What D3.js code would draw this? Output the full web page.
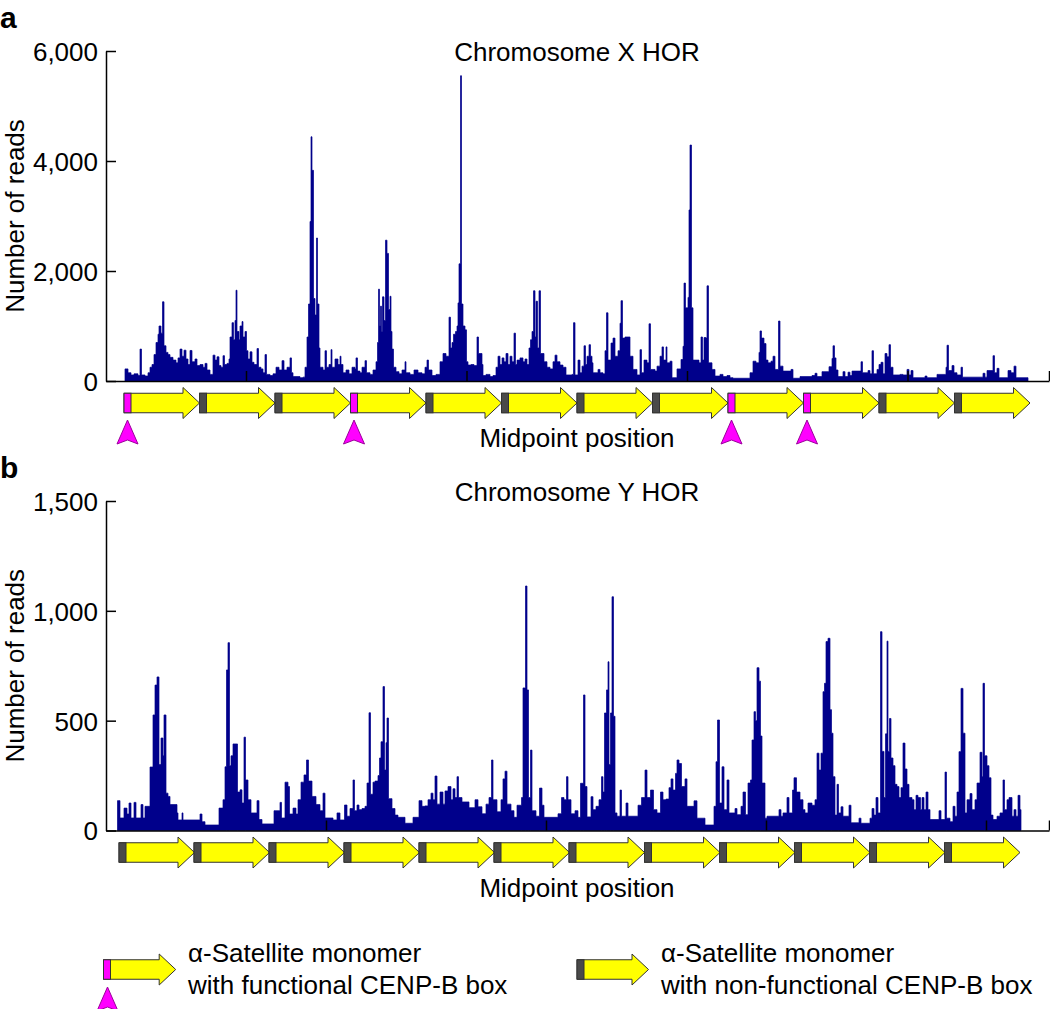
<!DOCTYPE html>
<html><head><meta charset="utf-8">
<script src="https://cdn.jsdelivr.net/npm/d3@7"></script>
<style>
body{margin:0;background:#fff}
svg{display:block}
text{font-family:"Liberation Sans",Arial,Helvetica,sans-serif;fill:#000}
</style>
</head><body>
<svg id="chart" width="1050" height="1009"></svg>
<script>
// ---------- DATA ----------
// midpoint position (arbitrary units along the HOR) , number of reads
const chrXProfile = [[38,220],[44,150],[50,110],[56,130],[64,100],[68,580],[71,110],[78,90],[84,150],[88,250],[92,300],[96,480],[100,700],[104,850],[106,1000],[110,870],[113,1440],[116,640],[120,520],[124,480],[128,430],[134,380],[140,330],[144,420],[148,580],[152,450],[156,560],[160,400],[164,300],[168,555],[172,350],[178,400],[182,280],[188,300],[194,250],[198,320],[202,200],[208,120],[214,470],[218,380],[222,440],[226,280],[230,250],[234,460],[237,300],[242,320],[246,400],[248,800],[252,1060],[255,750],[258,1100],[260,1650],[262,900],[266,750],[268,1000],[272,1080],[274,800],[278,900],[281,550],[284,400],[288,530],[292,340],[296,300],[302,590],[305,250],[310,220],[314,150],[318,480],[321,120],[328,100],[334,130],[340,250],[346,200],[352,370],[356,200],[362,250],[368,420],[371,150],[374,80],[388,60],[394,70],[398,250],[402,800],[405,1400],[408,2900],[410,4440],[412,3830],[415,1500],[418,1200],[421,2600],[423,1400],[426,600],[428,250],[434,200],[438,550],[441,250],[446,300],[450,570],[452,250],[458,400],[464,300],[468,450],[470,300],[474,150],[480,200],[486,130],[492,250],[498,220],[500,420],[503,180],[508,150],[512,250],[518,370],[521,150],[528,120],[534,200],[540,350],[543,700],[545,1670],[547,1000],[549,1360],[551,900],[553,1530],[556,1100],[559,2560],[562,2320],[565,1300],[568,1540],[570,900],[572,580],[575,250],[580,170],[586,130],[592,200],[598,350],[600,150],[608,120],[616,200],[624,150],[632,130],[638,250],[642,380],[645,200],[652,100],[660,120],[668,350],[674,500],[680,450],[686,1160],[689,600],[692,700],[695,850],[699,900],[702,1000],[704,1420],[706,2130],[709,5550],[711,1400],[714,1000],[718,930],[721,350],[724,290],[730,300],[736,280],[742,800],[745,500],[748,500],[752,300],[754,100],[760,120],[768,80],[774,100],[780,250],[784,450],[788,300],[792,420],[796,350],[800,500],[804,300],[808,450],[812,350],[816,870],[819,300],[822,380],[828,420],[834,350],[838,400],[842,300],[846,600],[849,750],[852,900],[855,1640],[858,800],[860,1450],[863,600],[866,1640],[869,500],[872,500],[876,350],[882,250],[888,220],[894,350],[898,470],[902,350],[908,290],[914,250],[920,110],[932,120],[935,1060],[938,110],[944,380],[948,150],[952,270],[956,640],[959,300],[962,450],[966,660],[969,450],[972,330],[974,150],[984,210],[988,150],[994,130],[998,550],[1001,1240],[1004,380],[1010,690],[1014,780],[1018,450],[1024,550],[1028,1050],[1030,1460],[1033,780],[1038,800],[1044,800],[1048,450],[1054,210],[1062,110],[1068,570],[1071,150],[1076,380],[1082,330],[1086,1040],[1089,210],[1098,180],[1102,270],[1108,450],[1112,620],[1115,380],[1120,620],[1122,330],[1128,360],[1132,60],[1142,220],[1150,390],[1154,630],[1156,1780],[1159,1330],[1164,1520],[1166,3110],[1168,4290],[1171,1330],[1174,380],[1182,380],[1186,330],[1190,800],[1193,380],[1196,790],[1200,780],[1202,1730],[1205,330],[1212,210],[1218,90],[1228,120],[1234,80],[1242,100],[1248,60],[1254,50],[1288,150],[1294,360],[1300,330],[1306,520],[1308,910],[1311,780],[1316,680],[1320,380],[1324,330],[1330,360],[1334,450],[1338,210],[1345,1090],[1348,270],[1354,180],[1370,210],[1374,50],[1388,80],[1412,100],[1418,140],[1422,80],[1432,170],[1446,260],[1452,410],[1454,640],[1457,420],[1460,200],[1464,80],[1474,170],[1478,80],[1484,160],[1488,100],[1492,180],[1510,350],[1513,150],[1524,190],[1528,130],[1532,550],[1535,130],[1542,210],[1546,300],[1550,340],[1554,130],[1558,500],[1562,440],[1566,660],[1569,250],[1574,110],[1588,120],[1594,110],[1602,210],[1606,110],[1610,190],[1614,60],[1638,90],[1642,60],[1662,120],[1680,250],[1682,650],[1685,190],[1692,280],[1696,150],[1702,110],[1710,250],[1713,70],[1754,140],[1758,70],[1762,190],[1774,460],[1777,150],[1782,230],[1786,60],[1804,190],[1810,150],[1816,270],[1820,60],[1844,0]];

const chrYProfile = [[23,136],[28,57],[36,102],[42,75],[46,125],[50,57],[56,128],[60,57],[70,118],[74,57],[78,110],[88,289],[94,526],[98,662],[102,699],[106,300],[110,421],[114,340],[116,526],[120,170],[124,155],[128,118],[142,80],[144,48],[152,80],[154,48],[188,75],[192,40],[198,25],[226,102],[234,140],[238,290],[241,731],[244,855],[247,295],[250,340],[254,394],[263,175],[268,185],[272,125],[276,425],[279,230],[284,140],[290,80],[302,136],[306,50],[312,30],[336,90],[348,128],[351,57],[358,220],[364,200],[367,75],[374,102],[380,75],[384,140],[390,220],[396,253],[401,321],[405,225],[412,155],[420,118],[428,90],[434,170],[438,57],[454,48],[462,80],[468,48],[477,116],[482,65],[488,100],[494,230],[497,90],[502,116],[506,95],[512,100],[518,110],[522,216],[526,536],[529,165],[534,220],[538,225],[544,250],[547,330],[550,404],[554,655],[557,275],[560,400],[562,512],[565,145],[572,100],[578,70],[584,60],[598,33],[614,60],[626,136],[632,110],[638,112],[644,140],[650,170],[654,140],[658,248],[662,120],[668,175],[674,120],[678,180],[684,200],[690,140],[694,190],[698,150],[702,245],[705,150],[712,130],[726,104],[738,140],[744,108],[752,76],[760,120],[766,150],[771,321],[774,140],[782,85],[790,140],[794,235],[798,270],[802,120],[810,90],[816,60],[822,115],[831,150],[834,649],[839,1113],[842,640],[845,150],[849,366],[852,90],[860,65],[867,193],[872,115],[876,60],[904,76],[911,150],[916,140],[921,245],[924,140],[930,76],[938,90],[944,60],[949,215],[955,617],[958,200],[962,62],[970,154],[974,95],[980,110],[986,140],[991,245],[994,175],[997,535],[1001,640],[1004,768],[1006,300],[1009,535],[1012,1064],[1015,520],[1018,80],[1022,65],[1028,184],[1031,65],[1040,125],[1044,65],[1064,115],[1071,150],[1078,275],[1082,150],[1089,184],[1095,95],[1102,80],[1109,175],[1114,140],[1120,143],[1126,195],[1130,235],[1134,184],[1139,260],[1142,321],[1146,305],[1151,200],[1158,235],[1162,110],[1176,135],[1182,56],[1198,25],[1216,110],[1220,313],[1223,503],[1227,125],[1232,290],[1236,95],[1242,230],[1246,80],[1258,100],[1262,72],[1270,110],[1274,175],[1279,72],[1284,216],[1289,230],[1292,412],[1296,541],[1299,500],[1302,741],[1306,680],[1309,430],[1312,216],[1318,56],[1322,65],[1346,95],[1350,65],[1354,80],[1362,150],[1366,80],[1373,184],[1376,240],[1381,175],[1388,140],[1394,95],[1398,80],[1404,125],[1412,115],[1418,140],[1422,352],[1426,275],[1430,352],[1434,632],[1437,670],[1440,860],[1444,875],[1448,550],[1451,443],[1454,245],[1458,70],[1462,210],[1465,80],[1470,108],[1474,65],[1486,115],[1490,35],[1506,56],[1510,33],[1528,56],[1532,100],[1536,70],[1540,150],[1544,80],[1549,905],[1552,360],[1556,150],[1559,440],[1562,862],[1564,360],[1567,510],[1570,330],[1574,295],[1578,210],[1582,200],[1586,150],[1590,195],[1594,398],[1598,280],[1602,210],[1606,150],[1612,140],[1616,95],[1620,160],[1624,150],[1629,95],[1632,150],[1636,95],[1640,175],[1644,95],[1648,50],[1666,90],[1670,50],[1678,266],[1681,56],[1688,40],[1694,110],[1698,65],[1702,175],[1706,359],[1710,647],[1714,443],[1718,80],[1722,140],[1728,168],[1732,95],[1738,140],[1742,216],[1748,356],[1752,245],[1754,670],[1757,340],[1762,295],[1766,240],[1770,70],[1774,50],[1782,65],[1788,80],[1794,230],[1797,95],[1802,140],[1806,150],[1812,65],[1816,95],[1820,65],[1824,160],[1828,95],[1830,0]];

const xDomain = [0, 1886];
const chrXTicksX = [280, 721, 1162, 1603, 1886];
const chrYTicksX = [440, 880, 1320, 1760, 1886];
const chrXTicksY = [0, 2000, 4000, 6000];
const chrYTicksY = [0, 500, 1000, 1500];

// alpha-satellite monomers (start position, monomer length) and CENP-B box type
const chrXMonomerStarts = [36, 187, 338, 489, 640, 791, 942, 1093, 1244, 1395, 1546, 1697];
const chrXMonomerLength = 151;
const chrXBoxTypes = ["functional","non","non","functional","non","non","non","non","functional","functional","non","non"];
const chrYMonomerStarts = [26, 176, 326, 476, 626, 776, 926, 1077, 1227, 1377, 1527, 1677];
const chrYMonomerLength = 151;
const chrYBoxTypes = ["non","non","non","non","non","non","non","non","non","non","non","non"];

const panelTitles = ["Chromosome X HOR", "Chromosome Y HOR"];
const legendLabels = [["α-Satellite monomer","with functional CENP-B box"],["α-Satellite monomer","with non-functional CENP-B box"]];

// ---------- DRAW ----------
const svg = d3.select("#chart");
const FONT = 26;
const BAR = "#00008b";
const YELLOW = "#ffff00", MAGENTA = "#ff00ff", GREY = "#4a4a4a", OUTLINE = "#333";

const x = d3.scaleLinear().domain(xDomain).range([106, 1049]);

function monomer(g, x0, x1, cy, type) {
  const bh = 9.75, hh = 15.5, hl = 16.5;
  g.append("path")
    .attr("d", `M${x0},${cy-bh}L${x1-hl},${cy-bh}L${x1-hl},${cy-hh}L${x1},${cy}L${x1-hl},${cy+hh}L${x1-hl},${cy+bh}L${x0},${cy+bh}Z`)
    .attr("fill", YELLOW).attr("stroke", OUTLINE).attr("stroke-width", 1).attr("stroke-linejoin","miter");
  g.append("rect").attr("x", x0).attr("y", cy-bh).attr("width", 7).attr("height", 2*bh)
    .attr("fill", type === "functional" ? MAGENTA : GREY).attr("stroke", OUTLINE).attr("stroke-width", 1);
}
function marker(g, cx, top) {
  g.append("path")
    .attr("d", `M${cx},${top}L${cx+10.5},${top+24}L${cx},${top+20}L${cx-10.5},${top+24}Z`)
    .attr("fill", MAGENTA).attr("stroke", "#9b009b").attr("stroke-width", 1);
}

function panel(cfg) {
  const y = d3.scaleLinear().domain(cfg.yDomain).range([cfg.y0, cfg.y1]);
  const g = svg.append("g");

  const area = d3.area().curve(d3.curveStepAfter)
    .x(d => x(d[0])).y0(y(0)).y1(d => y(d[1]));
  g.append("path").datum(cfg.profile).attr("d", area)
    .attr("fill", BAR).attr("stroke", BAR).attr("stroke-width", 0.7).attr("stroke-linejoin","miter");

  const ya = g.append("g").attr("transform", `translate(${x(xDomain[0])},0)`)
    .call(d3.axisLeft(y).tickValues(cfg.yTicks).tickFormat(d3.format(",")).tickSizeInner(-10).tickSizeOuter(0).tickPadding(8));
  ya.selectAll("text").attr("font-size", FONT).attr("font-family", null).attr("dy", "0.36em");
  ya.selectAll("line,path").attr("stroke", "#000").attr("stroke-width", 1.5);

  const xa = g.append("g").attr("transform", `translate(0,${y(0)})`)
    .call(d3.axisBottom(x).tickValues(cfg.xTicks).tickFormat("").tickSizeInner(-10).tickSizeOuter(0));
  xa.selectAll("line,path").attr("stroke", "#000").attr("stroke-width", 1.5);

  const my = (cfg.y0 + cfg.y1) / 2;
  g.append("text").attr("x", 24).attr("y", my)
    .attr("transform", `rotate(-90,24,${my})`)
    .attr("text-anchor", "middle").attr("font-size", FONT).text("Number of reads");

  g.append("text").attr("x", 577).attr("y", cfg.titleY).attr("text-anchor", "middle")
    .attr("font-size", FONT).text(cfg.title);
  g.append("text").attr("x", 0).attr("y", cfg.letterY).attr("font-size", 30).attr("font-weight", "bold").text(cfg.letter);

  const cy = y(0) + 22;
  const mg = g.append("g");
  cfg.starts.forEach((s, i) => {
    const x0 = x(s), x1 = x(s + cfg.len);
    monomer(mg, x0, x1, cy, cfg.types[i]);
    if (cfg.types[i] === "functional") marker(mg, x0 + 3.5, cy + 17);
  });
  g.append("text").attr("x", 577).attr("y", cy + 44).attr("text-anchor", "middle")
    .attr("font-size", FONT).text("Midpoint position");
}

panel({profile: chrXProfile, yDomain: [0, 6000], y0: 381, y1: 51, yTicks: chrXTicksY, xTicks: chrXTicksX,
  title: panelTitles[0], titleY: 61, letter: "a", letterY: 28,
  starts: chrXMonomerStarts, len: chrXMonomerLength, types: chrXBoxTypes});
panel({profile: chrYProfile, yDomain: [0, 1500], y0: 830.5, y1: 501, yTicks: chrYTicksY, xTicks: chrYTicksX,
  title: panelTitles[1], titleY: 501, letter: "b", letterY: 478,
  starts: chrYMonomerStarts, len: chrYMonomerLength, types: chrYBoxTypes});

// legend
const lg = svg.append("g");
monomer(lg, 103.5, 175.7, 969.5, "functional");
marker(lg, 107.5, 987);
monomer(lg, 577, 648.5, 969.5, "non");
[[188, legendLabels[0]], [661, legendLabels[1]]].forEach(([lx, lines]) => {
  lines.forEach((t, i) => lg.append("text").attr("x", lx).attr("y", 962 + i * 32).attr("font-size", FONT).text(t));
});
</script>
</body></html>
